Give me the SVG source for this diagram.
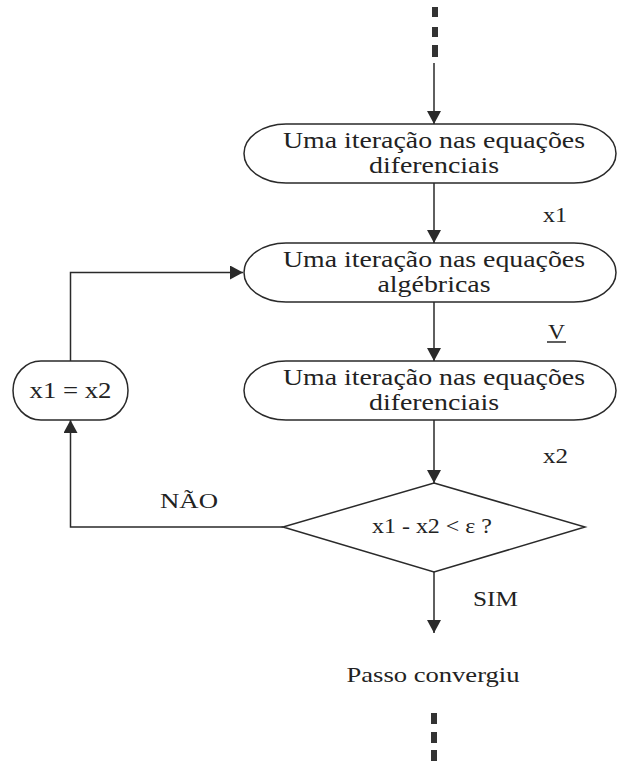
<svg xmlns="http://www.w3.org/2000/svg" width="618" height="761" viewBox="0 0 618 761">
  <style>
    .shape { fill: #ffffff; stroke: #2a2a2a; stroke-width: 1.5; }
    .line { fill: none; stroke: #2a2a2a; stroke-width: 1.5; }
    .dash { fill: #333333; }
    text { font-family: "Liberation Serif", "Times New Roman", serif; fill: #222222; text-anchor: middle; }
    .box { font-size: 24px; }
    .lbl { font-size: 21px; }
  </style>
  <defs>
    <marker id="arrow" markerUnits="userSpaceOnUse" markerWidth="14" markerHeight="16" refX="13" refY="7" orient="auto">
      <path d="M0,0 L13,7 L0,14 z" fill="#2a2a2a"/>
    </marker>
  </defs>

  <!-- continuation marks -->
  <g id="continue-top">
    <rect class="dash" x="432" y="7" width="6" height="10"/>
    <rect class="dash" x="432" y="27" width="6" height="10"/>
    <rect class="dash" x="432" y="45" width="6" height="12"/>
  </g>
  <g id="continue-bottom">
    <rect class="dash" x="431" y="713" width="6" height="11"/>
    <rect class="dash" x="431" y="732" width="6" height="11"/>
    <rect class="dash" x="431" y="750" width="6" height="11"/>
  </g>

  <!-- connectors -->
  <g id="connectors">
    <line class="line" x1="434" y1="63" x2="434" y2="124" marker-end="url(#arrow)"/>
    <line class="line" x1="434" y1="183" x2="434" y2="243" marker-end="url(#arrow)"/>
    <line class="line" x1="434" y1="302" x2="434" y2="361" marker-end="url(#arrow)"/>
    <line class="line" x1="434" y1="420" x2="434" y2="483" marker-end="url(#arrow)"/>
    <line class="line" x1="434" y1="572" x2="434" y2="633" marker-end="url(#arrow)"/>
    <polyline class="line" points="283,527 70.5,527 70.5,420" marker-end="url(#arrow)"/>
    <polyline class="line" points="70.5,361 70.5,272.5 243,272.5" marker-end="url(#arrow)"/>
    <text class="lbl" x="555" y="222" textLength="24" lengthAdjust="spacingAndGlyphs">x1</text>
    <text class="lbl" x="556.5" y="339" textLength="17" lengthAdjust="spacingAndGlyphs">V</text>
    <line class="line" x1="547" y1="342" x2="566" y2="342"/>
    <text class="lbl" x="555.5" y="463" textLength="25" lengthAdjust="spacingAndGlyphs">x2</text>
    <text class="lbl" x="189" y="508" textLength="58" lengthAdjust="spacingAndGlyphs">NÃO</text>
    <text class="lbl" x="495.5" y="606" textLength="45" lengthAdjust="spacingAndGlyphs">SIM</text>
  </g>

  <g id="diff-1">
    <rect class="shape" x="244" y="124" width="372" height="59" rx="42" ry="29.5"/>
    <text class="box" x="434" y="148" textLength="302" lengthAdjust="spacingAndGlyphs">Uma iteração nas equações</text>
    <text class="box" x="434" y="173" textLength="130" lengthAdjust="spacingAndGlyphs">diferenciais</text>
  </g>

  <g id="alg">
    <rect class="shape" x="244" y="243" width="372" height="59" rx="42" ry="29.5"/>
    <text class="box" x="434" y="267" textLength="302" lengthAdjust="spacingAndGlyphs">Uma iteração nas equações</text>
    <text class="box" x="434" y="292" textLength="113" lengthAdjust="spacingAndGlyphs">algébricas</text>
  </g>

  <g id="diff-2">
    <rect class="shape" x="244" y="361" width="372" height="59" rx="42" ry="29.5"/>
    <text class="box" x="434" y="385" textLength="302" lengthAdjust="spacingAndGlyphs">Uma iteração nas equações</text>
    <text class="box" x="434" y="410" textLength="130" lengthAdjust="spacingAndGlyphs">diferenciais</text>
  </g>

  <g id="update">
    <rect class="shape" x="13" y="361" width="115" height="59" rx="28" ry="29.5"/>
    <text class="box" x="70.5" y="398" textLength="82" lengthAdjust="spacingAndGlyphs">x1 = x2</text>
  </g>

  <g id="test">
    <polygon class="shape" points="434,483 585,527 434,572 283,527"/>
    <text class="lbl" x="432" y="533" textLength="120" lengthAdjust="spacingAndGlyphs">x1 - x2 &lt; ε ?</text>
  </g>

  <g id="done">
    <text class="lbl" x="433" y="682" textLength="173" lengthAdjust="spacingAndGlyphs">Passo convergiu</text>
  </g>
</svg>
